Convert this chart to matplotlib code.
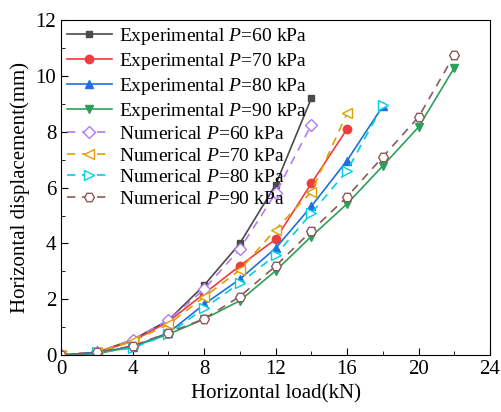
import matplotlib
matplotlib.use('Agg')
import matplotlib.pyplot as plt
from matplotlib.ticker import MultipleLocator

plt.rcParams['font.family'] = ['Liberation Serif', 'DejaVu Serif']
plt.rcParams['mathtext.fontset'] = 'custom'
plt.rcParams['mathtext.it'] = 'Liberation Serif:italic'
plt.rcParams['mathtext.rm'] = 'Liberation Serif'

# Horizontal load (kN)
load_14 = [0, 2, 4, 6, 8, 10, 12, 14]
load_16 = [0, 2, 4, 6, 8, 10, 12, 14, 16]
load_18 = [0, 2, 4, 6, 8, 10, 12, 14, 16, 18]
load_22 = [0, 2, 4, 6, 8, 10, 12, 14, 16, 18, 20, 22]

# Horizontal displacement (mm)
exp_60 = [0, 0.1, 0.55, 1.25, 2.5, 4.0, 6.1, 9.2]
exp_70 = [0, 0.1, 0.5, 1.2, 2.2, 3.2, 4.15, 6.15, 8.1]
exp_80 = [0, 0.1, 0.3, 0.8, 1.82, 2.72, 3.83, 5.33, 6.97, 8.92]
exp_90 = [0, 0.05, 0.3, 0.75, 1.29, 1.95, 3.02, 4.25, 5.42, 6.78, 8.17, 10.29]
num_60 = [0, 0.1, 0.55, 1.25, 2.36, 3.8, 5.8, 8.25]
num_70 = [0, 0.1, 0.5, 1.1, 2.08, 3.05, 4.5, 5.85, 8.66]
num_80 = [0, 0.1, 0.25, 0.75, 1.68, 2.58, 3.58, 5.08, 6.6, 8.95]
num_90 = [0, 0.1, 0.33, 0.8, 1.3, 2.1, 3.19, 4.45, 5.67, 7.1, 8.53, 10.75]

fig = plt.figure(figsize=(5.01, 4.12), dpi=100)
ax = fig.add_axes([0.122, 0.138, 0.856, 0.813])

ax.plot(load_14, exp_60, '-s', color='#4a4a4a', ms=5, lw=1.2, label='Experimental $P$=60 kPa')
ax.plot(load_16, exp_70, '-o', color='#f03c3c', ms=6, lw=1.2, label='Experimental $P$=70 kPa')
ax.plot(load_18, exp_80, '-^', color='#1f6fe0', ms=6, lw=1.2, label='Experimental $P$=80 kPa')
ax.plot(load_22, exp_90, '-v', color='#2ca05a', ms=6, lw=1.2, label='Experimental $P$=90 kPa')
ax.plot(load_14, num_60, '--D', color='#b07cf0', ms=6, lw=1.2, mfc='white', label='Numerical $P$=60 kPa', dashes=(5, 4))
ax.plot(load_16, num_70, '--<', color='#e0a000', ms=7, lw=1.2, mfc='white', label='Numerical $P$=70 kPa', dashes=(5, 4))
ax.plot(load_18, num_80, '-->', color='#00d0e0', ms=7, lw=1.2, mfc='white', label='Numerical $P$=80 kPa', dashes=(5, 4))
ax.plot(load_22, num_90, '--H', color='#8b5a5a', ms=7, lw=1.2, mfc='white', label='Numerical $P$=90 kPa', dashes=(5, 4))

ax.set_xlim(0, 24)
ax.set_ylim(0, 12)
ax.xaxis.set_major_locator(MultipleLocator(4))
ax.xaxis.set_minor_locator(MultipleLocator(2))
ax.yaxis.set_major_locator(MultipleLocator(2))
ax.yaxis.set_minor_locator(MultipleLocator(1))
ax.tick_params(which='both', direction='in', labelsize=15)
ax.tick_params(which='major', length=5)
ax.tick_params(which='minor', length=3)
ax.set_xlabel('Horizontal load(kN)', fontsize=15)
ax.set_ylabel('Horizontal displacement(mm)', fontsize=15)

ax.legend(loc='upper left', frameon=False, fontsize=14, handlelength=2.3,
          labelspacing=0.2, borderaxespad=0.1, handletextpad=0.4, borderpad=0.2)

fig.savefig('out.png', dpi=100)
